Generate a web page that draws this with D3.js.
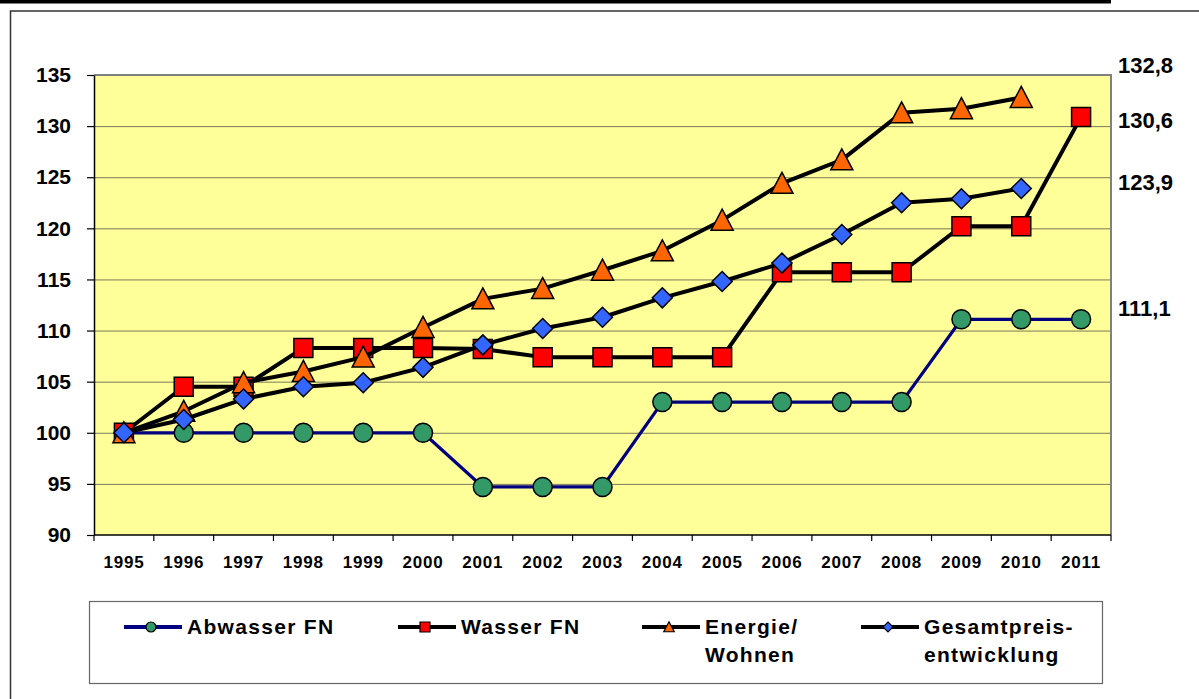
<!DOCTYPE html>
<html>
<head>
<meta charset="utf-8">
<script src="https://cdn.jsdelivr.net/npm/d3@7"></script>
<style>
  body { margin: 0; background: #fff; }
  svg { display: block; font-family: "Liberation Sans", Arial, sans-serif; }
</style>
</head>
<body>
<div id="chart"></div>
<script>
let years = ["1995","1996","1997","1998","1999","2000","2001","2002","2003","2004","2005","2006","2007","2008","2009","2010","2011"];

let abwasser = [100, 100, 100, 100, 100, 100, 94.7, 94.7, 94.7, 103, 103, 103, 103, 103, 111.1, 111.1, 111.1];
let wasser   = [100, 104.5, 104.5, 108.3, 108.3, 108.3, 108.2, 107.4, 107.4, 107.4, 107.4, 115.7, 115.7, 115.7, 120.2, 120.2, 130.9];
let energie  = [100, 102.1, 104.9, 106.0, 107.4, 110.3, 113.1, 114.1, 115.9, 117.8, 120.8, 124.4, 126.7, 131.3, 131.7, 132.8];
let gesamt   = [100, 101.3, 103.3, 104.5, 104.9, 106.4, 108.6, 110.2, 111.3, 113.2, 114.8, 116.6, 119.4, 122.5, 122.9, 123.9];

let yTicks = [90, 95, 100, 105, 110, 115, 120, 125, 130, 135];

let endLabels = ["132,8", "130,6", "123,9", "111,1"];
let endValues = [132.8, 130.6, 123.9, 111.1];

let series = [
  {name: ["Abwasser FN"], values: abwasser, line: "#000080", fill: "#339966", shape: "circle"},
  {name: ["Wasser FN"], values: wasser, line: "#000000", fill: "#FF0000", shape: "square"},
  {name: ["Energie/", "Wohnen"], values: energie, line: "#000000", fill: "#FF6600", shape: "triangle"},
  {name: ["Gesamtpreis-", "entwicklung"], values: gesamt, line: "#000000", fill: "#3366FF", shape: "diamond"}
];

let dim = { width: 1199, height: 699 };
let plot = { left: 94, right: 1111, top: 75, bottom: 535 };

let svg = d3.select("#chart").append("svg")
            .attr("width", dim.width)
            .attr("height", dim.height);

// outer frame (runs off the page right and bottom) + black bar at the top
svg.append("rect")
   .attr("x", 10.5).attr("y", 11)
   .attr("width", 1300).attr("height", 800)
   .attr("fill", "#fff")
   .attr("stroke", "#333").attr("stroke-width", 1.5);
svg.append("rect")
   .attr("x", 0).attr("y", 0)
   .attr("width", 1111).attr("height", 3.5)
   .attr("fill", "#000");

let x = d3.scaleBand()
          .domain(years)
          .range([plot.left, plot.right]);

let y = d3.scaleLinear()
          .domain([90, 135])
          .range([plot.bottom, plot.top]);

// plot background
svg.append("rect")
   .attr("x", plot.left).attr("y", plot.top)
   .attr("width", plot.right - plot.left)
   .attr("height", plot.bottom - plot.top)
   .attr("fill", "#FFFF99");

// gridlines
svg.append("g")
   .selectAll("line")
   .data(yTicks.filter(d => d > 90 && d < 135))
   .join("line")
   .attr("x1", plot.left).attr("x2", plot.right)
   .attr("y1", d => y(d) + 0.5).attr("y2", d => y(d) + 0.5)
   .attr("stroke", "#7a7a5a").attr("stroke-width", 1);

// grey plot border (top, right)
svg.append("path")
   .attr("d", `M${plot.left},${plot.top} H${plot.right} V${plot.bottom}`)
   .attr("fill", "none")
   .attr("stroke", "#808080").attr("stroke-width", 2);

// y axis
let axisY = svg.append("g")
               .attr("transform", `translate(${plot.left}, 0)`)
               .call(d3.axisLeft(y).tickValues(yTicks).tickSize(7).tickPadding(16).tickSizeOuter(0));
axisY.select(".domain").attr("stroke", "#000").attr("stroke-width", 1.5);
axisY.selectAll(".tick line").attr("stroke", "#000").attr("stroke-width", 1.2);
axisY.selectAll("text")
     .attr("font-size", "21px")
     .attr("font-weight", "bold")
     .attr("font-family", "Liberation Sans, Arial, sans-serif")
     .attr("fill", "#000");

// x axis (ticks between categories)
let axisX = svg.append("g")
               .attr("transform", `translate(0, ${plot.bottom})`);
axisX.append("line")
     .attr("x1", plot.left).attr("x2", plot.right)
     .attr("y1", 0).attr("y2", 0)
     .attr("stroke", "#000").attr("stroke-width", 1.5);
axisX.selectAll(".tk")
     .data(years.concat(["end"]))
     .join("line")
     .attr("class", "tk")
     .attr("x1", (d, i) => plot.left + i * x.bandwidth())
     .attr("x2", (d, i) => plot.left + i * x.bandwidth())
     .attr("y1", 0).attr("y2", 6)
     .attr("stroke", "#000").attr("stroke-width", 1.2);
axisX.selectAll("text")
     .data(years)
     .join("text")
     .attr("x", d => x(d) + x.bandwidth() / 2)
     .attr("y", 33)
     .attr("text-anchor", "middle")
     .attr("font-size", "17px")
     .attr("font-weight", "bold")
     .attr("letter-spacing", "0.8px")
     .text(d => d);

function markerPath(shape, s) {
  let h = s / 2;
  if (shape === "circle") {
    return `M${-h},0 A${h},${h} 0 1,0 ${h},0 A${h},${h} 0 1,0 ${-h},0 Z`;
  }
  if (shape === "square") {
    return `M${-h},${-h} H${h} V${h} H${-h} Z`;
  }
  if (shape === "triangle") {
    return `M0,${-h * 1.05} L${h * 1.05},${h * 0.95} L${-h * 1.05},${h * 0.95} Z`;
  }
  return `M0,${-h} L${h},0 L0,${h} L${-h},0 Z`;
}

let line = d3.line()
             .x((d, i) => x(years[i]) + x.bandwidth() / 2)
             .y(d => y(d));

let markSize = { circle: 19, square: 19, triangle: 21, diamond: 20 };

series.forEach(s => {
  let g = svg.append("g");
  g.append("path")
   .attr("d", line(s.values))
   .attr("fill", "none")
   .attr("stroke", s.line)
   .attr("stroke-width", s.shape === "circle" ? 3.2 : 4)
   .attr("stroke-linejoin", "round");
  g.selectAll("path.mk")
   .data(s.values)
   .join("path")
   .attr("class", "mk")
   .attr("transform", (d, i) => `translate(${x(years[i]) + x.bandwidth() / 2}, ${y(d)})`)
   .attr("d", markerPath(s.shape, markSize[s.shape]))
   .attr("fill", s.fill)
   .attr("stroke", "#000")
   .attr("stroke-width", 1.5);
});

// end value labels on the right
let labelShift = [-32, 0, -6, -11];
svg.append("g")
   .selectAll("text")
   .data(endLabels)
   .join("text")
   .attr("x", 1118)
   .attr("y", (d, i) => y(endValues[i]) + labelShift[i])
   .attr("dy", "0.36em")
   .attr("font-size", "22px")
   .attr("font-weight", "bold")
   .text(d => d);

// legend
let legend = svg.append("g");
legend.append("rect")
      .attr("x", 89.5).attr("y", 601.5)
      .attr("width", 1013).attr("height", 82)
      .attr("fill", "#fff")
      .attr("stroke", "#666").attr("stroke-width", 1.2);

let legendX = [124, 398, 642, 861];
let legendY = 627;

series.forEach((s, i) => {
  let lg = legend.append("g").attr("transform", `translate(${legendX[i]}, ${legendY})`);
  lg.append("line")
    .attr("x1", 0).attr("x2", 58)
    .attr("y1", 0).attr("y2", 0)
    .attr("stroke", s.line).attr("stroke-width", 4);
  lg.append("path")
    .attr("transform", "translate(27, 0)")
    .attr("d", markerPath(s.shape, 10))
    .attr("fill", s.fill)
    .attr("stroke", "#000").attr("stroke-width", 1.2);
  lg.selectAll("text")
    .data(s.name)
    .join("text")
    .attr("x", 63)
    .attr("y", (d, j) => 7 + j * 28)
    .attr("font-size", "21px")
    .attr("font-weight", "bold")
    .attr("letter-spacing", "1.3px")
    .text(d => d);
});
</script>
</body>
</html>
